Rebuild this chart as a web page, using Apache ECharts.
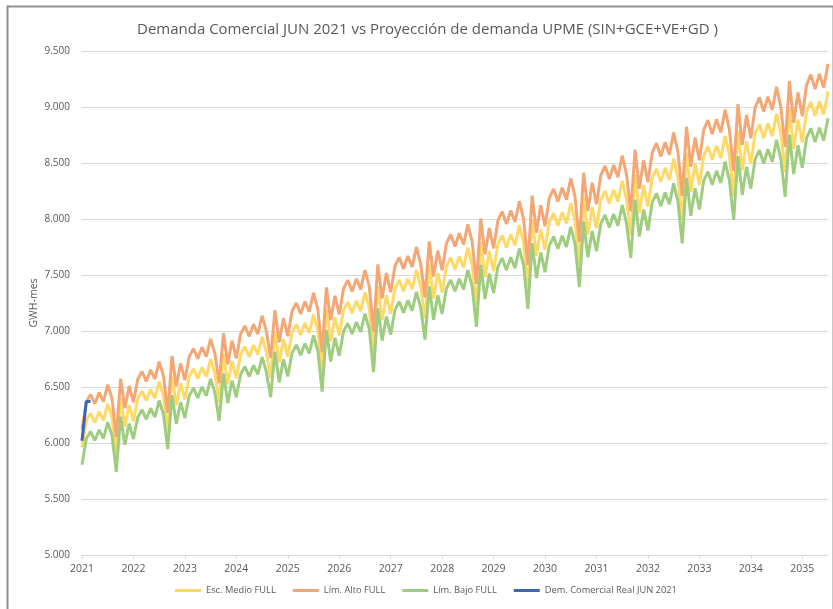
<!DOCTYPE html>
<html>
<head>
<meta charset="utf-8">
<script src="https://cdn.jsdelivr.net/npm/echarts@6/dist/echarts.min.js"></script>
<style>
html,body{margin:0;padding:0;background:#fff;}
#c{width:833px;height:609px;}
</style>
</head>
<body>
<div id="c"></div>
<script>
// Year tick labels (one per 12 monthly categories)
var yearLabels = ['2021','2022','2023','2024','2025','2026','2027','2028','2029','2030','2031','2032','2033','2034','2035'];

// Esc. Medio FULL (GWh-mes), monthly
var medio = [
5960,6199,6265,6183,6280,6203,6350,6229,5895,6400,6145,6338,
6196,6396,6464,6378,6478,6398,6549,6424,6105,6599,6336,6534,
6388,6593,6662,6574,6676,6593,6748,6619,6362,6798,6527,6731,
6579,6790,6861,6769,6874,6788,6948,6814,6580,6997,6718,6927,
6770,6987,7059,6964,7072,6983,7147,7008,6630,7196,6908,7123,
6961,7184,7258,7160,7269,7178,7346,7203,6810,7395,7099,7319,
7153,7381,7456,7355,7467,7373,7545,7398,7109,7595,7290,7515,
7344,7578,7655,7551,7665,7568,7744,7593,7225,7794,7480,7712,
7535,7775,7854,7746,7863,7763,7943,7788,7390,7993,7671,7908,
7727,7972,8052,7941,8061,7958,8142,7982,7590,8192,7862,8104,
7918,8169,8251,8137,8259,8153,8341,8177,7856,8391,8053,8300,
8109,8366,8449,8332,8457,8348,8540,8372,7990,8590,8243,8496,
8301,8563,8648,8528,8655,8543,8740,8567,8205,8789,8434,8693,
8492,8760,8846,8723,8853,8738,8939,8762,8417,8988,8625,8889,
8683,8957,9045,8918,9051,8933,9138
];

// Lím. Alto FULL
var alto = [
6121,6366,6434,6350,6450,6370,6521,6397,6054,6573,6311,6509,
6363,6569,6638,6550,6653,6571,6726,6597,6270,6777,6507,6710,
6561,6771,6842,6752,6856,6771,6930,6798,6534,6982,6703,6913,
6757,6973,7046,6952,7060,6971,7136,6998,6758,7186,6899,7114,
6953,7176,7250,7152,7263,7172,7340,7197,6809,7390,7095,7315,
7149,7378,7454,7353,7465,7372,7544,7398,6994,7595,7291,7517,
7346,7580,7657,7554,7669,7572,7749,7598,7301,7800,7487,7718,
7542,7783,7862,7755,7872,7772,7953,7798,7420,8004,7682,7920,
7738,7985,8066,7955,8075,7973,8158,7998,7590,8209,7878,8122,
7936,8187,8269,8155,8279,8173,8362,8198,7795,8413,8074,8323,
8132,8390,8474,8357,8482,8373,8566,8398,8068,8618,8270,8524,
8328,8592,8677,8557,8685,8573,8771,8598,8206,8822,8466,8725,
8525,8794,8882,8758,8889,8774,8976,8798,8427,9026,8662,8928,
8721,8997,9085,8959,9092,8974,9180,8999,8644,9231,8858,9129,
8917,9199,9289,9159,9295,9174,9385
];

// Lím. Bajo FULL
var bajo = [
5805,6038,6102,6022,6117,6042,6185,6067,5742,6234,5985,6173,
6035,6230,6296,6212,6310,6232,6379,6257,5946,6427,6171,6364,
6222,6422,6489,6403,6502,6422,6573,6447,6197,6621,6357,6556,
6408,6614,6683,6593,6695,6612,6767,6637,6409,6815,6543,6747,
6594,6805,6876,6783,6888,6801,6961,6826,6458,7009,6728,6938,
6780,6997,7069,6974,7080,6991,7155,7016,6633,7203,6914,7129,
6967,7189,7262,7164,7273,7181,7349,7206,6924,7398,7101,7320,
7153,7381,7456,7355,7466,7371,7543,7396,7037,7591,7286,7512,
7339,7573,7650,7545,7659,7561,7737,7586,7198,7785,7472,7702,
7526,7765,7843,7735,7851,7751,7930,7775,7393,7979,7658,7893,
7712,7957,8036,7925,8044,7941,8124,7964,7652,8173,7844,8084,
7898,8149,8229,8115,8237,8131,8318,8154,7782,8367,8029,8275,
8085,8340,8423,8306,8430,8321,8513,8344,7992,8561,8215,8467,
8271,8532,8616,8496,8623,8511,8707,8534,8198,8754,8401,8658,
8457,8724,8810,8686,8816,8701,8900
];

// Dem. Comercial Real JUN 2021
var real = [6020, 6370, 6370];

var seriesNames = ['Esc. Medio FULL','Lím. Alto FULL','Lím. Bajo FULL','Dem. Comercial Real JUN 2021'];

var categories = medio.map(function(v, i){ return yearLabels[Math.floor(i/12)] + '-' + (i % 12); });

var chart = echarts.init(document.getElementById('c'), null, {renderer:'canvas'});
var font = '"Open Sans", "Noto Sans", sans-serif';
function fmt(v){ return String(v).replace(/\B(?=(\d{3})+(?!\d))/g, '.'); }

chart.setOption({
  animation:false,
  backgroundColor:'#ffffff',
  title:{
    text:'Demanda Comercial JUN 2021 vs Proyección de demanda UPME (SIN+GCE+VE+GD )',
    left:132, top:17,
    textStyle:{fontFamily:font, fontSize:15, fontWeight:'normal', color:'#595959'}
  },
  graphic:[{
    type:'rect', left:5, top:4, shape:{x:0,y:0,width:826,height:620},
    style:{fill:'none', stroke:'#8f8f8f', lineWidth:2}, silent:true, z:-1
  }],
  legend:{
    bottom:9, left:170,
    itemWidth:26, itemHeight:3, itemGap:17,
    icon:'rect',
    textStyle:{fontFamily:font, fontSize:9.3, color:'#595959'},
    data:seriesNames
  },
  grid:{left:82, right:5, top:51, bottom:54, containLabel:false},
  xAxis:{
    type:'category', boundaryGap:false, data:categories,
    axisLine:{lineStyle:{color:'#d9d9d9'}},
    axisTick:{show:true, interval:11, length:4, lineStyle:{color:'#d9d9d9'}},
    axisLabel:{interval:11, margin:9, color:'#595959', fontFamily:font, fontSize:10.5,
      formatter:function(v){ return v.split('-')[0]; }},
    splitLine:{show:false}
  },
  yAxis:{
    type:'value', min:5000, max:9500, interval:500,
    name:'GWH-mes', nameLocation:'middle', nameGap:42, nameRotate:90, nameMoveOverlap:false,
    nameTextStyle:{fontFamily:font, fontSize:10.5, color:'#595959'},
    axisLine:{show:false}, axisTick:{show:false},
    axisLabel:{color:'#595959', fontFamily:font, fontSize:10, margin:12, formatter:fmt},
    splitLine:{lineStyle:{color:'#d9d9d9', width:1}}
  },
  series:[
    {name:seriesNames[0], type:'line', data:medio, symbol:'none', lineStyle:{width:3, color:'#ffd966'}, itemStyle:{color:'#ffd966'}, z:2},
    {name:seriesNames[1], type:'line', data:alto, symbol:'none', lineStyle:{width:3, color:'#f4a775'}, itemStyle:{color:'#f4a775'}, z:3},
    {name:seriesNames[2], type:'line', data:bajo, symbol:'none', lineStyle:{width:3, color:'#9fcd7f'}, itemStyle:{color:'#9fcd7f'}, z:2},
    {name:seriesNames[3], type:'line', data:real, symbol:'none', lineStyle:{width:3, color:'#3d66b8'}, itemStyle:{color:'#3d66b8'}, z:5}
  ]
});
</script>
</body>
</html>
